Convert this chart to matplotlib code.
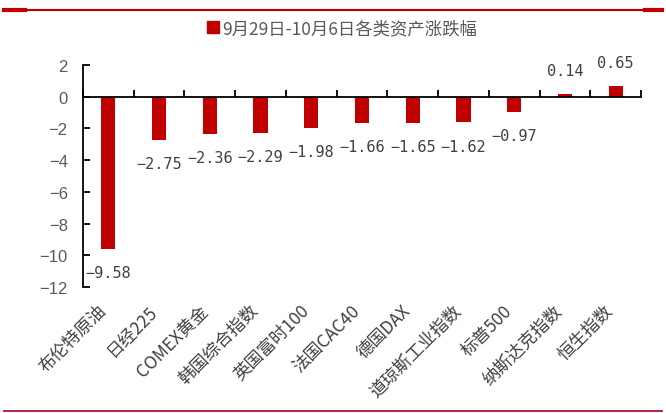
import matplotlib
matplotlib.use('Agg')
import matplotlib.pyplot as plt
from matplotlib.patches import Patch
from matplotlib.lines import Line2D
import matplotlib.transforms as mtransforms

categories = ['布伦特原油', '日经225', 'COMEX黄金', '韩国综合指数', '英国富时100', '法国CAC40',
              '德国DAX', '道琼斯工业指数', '标普500', '纳斯达克指数', '恒生指数']
values = [-9.58, -2.75, -2.36, -2.29, -1.98, -1.66, -1.65, -1.62, -0.97, 0.14, 0.65]
series_name = '9月29日-10月6日各类资产涨跌幅'
yticks = [2, 0, -2, -4, -6, -8, -10, -12]

plt.rcParams['font.family'] = ['Noto Sans CJK SC', 'DejaVu Sans']
W, H = 666, 414
fig = plt.figure(figsize=(W / 100, H / 100), dpi=100)
ax = fig.add_axes([83 / W, 1 - 288 / H, 558 / W, 222 / H])

x = list(range(len(categories)))
ax.bar(x, values, width=0.28, color='#C00000', zorder=2)
ax.set_xlim(-0.5, len(categories) - 0.5)
ax.set_ylim(-12, 2)

for s in ['top', 'right']:
    ax.spines[s].set_visible(False)
ax.spines['bottom'].set_position(('data', 0))
ax.spines['bottom'].set_linewidth(1.3)
ax.spines['left'].set_linewidth(1.3)
ax.spines['bottom'].set_zorder(3)

ax.set_xticks([k - 0.5 for k in range(len(categories) + 1)])
ax.set_xticklabels([])
ax.tick_params(axis='x', direction='in', length=5, width=1.3)

ax.set_yticks(yticks)
ax.set_yticklabels([str(t).replace('-', '\u2212') for t in yticks],
                   fontfamily='Liberation Sans', fontsize=12, color='#595959')
ax.tick_params(axis='y', direction='in', length=5, width=1.3, pad=11)

for i, v in enumerate(values):
    ax.annotate(f'{v:.2f}'.replace('-', '\u2212'), xy=(i, v),
                xytext=(0, 17 if v > 0 else -17), textcoords='offset points',
                ha='center', va='center', fontfamily='DejaVu Sans Mono',
                fontsize=11, color='#404040')

trans = mtransforms.blended_transform_factory(ax.transData, ax.transAxes)
for i, c in enumerate(categories):
    ax.text(i + 0.03, -14 / 222, c, transform=trans, rotation=45,
            ha='right', va='top', fontsize=12.5, color='#404040')

fig.legend(handles=[Patch(color='#C00000', label=series_name)], loc='center',
           bbox_to_anchor=(342 / W, 1 - 29 / H), frameon=False,
           handlelength=0.7, handleheight=0.7, handletextpad=0.2,
           fontsize=12.5, labelcolor='#595959')

fig.add_artist(Line2D([4 / W, 662 / W], [1 - 11 / H] * 2, color='#C00000', lw=1.5,
                      transform=fig.transFigure))
fig.add_artist(Line2D([4 / W, 25 / W], [1 - 11 / H] * 2, color='#C00000', lw=3,
                      transform=fig.transFigure))
fig.add_artist(Line2D([645 / W, 662 / W], [1 - 11 / H] * 2, color='#C00000', lw=3,
                      transform=fig.transFigure))
fig.add_artist(Line2D([4 / W, 662 / W], [1 - 412 / H] * 2, color='#A50021', lw=1.2,
                      transform=fig.transFigure))

fig.savefig('out.png', dpi=100)
